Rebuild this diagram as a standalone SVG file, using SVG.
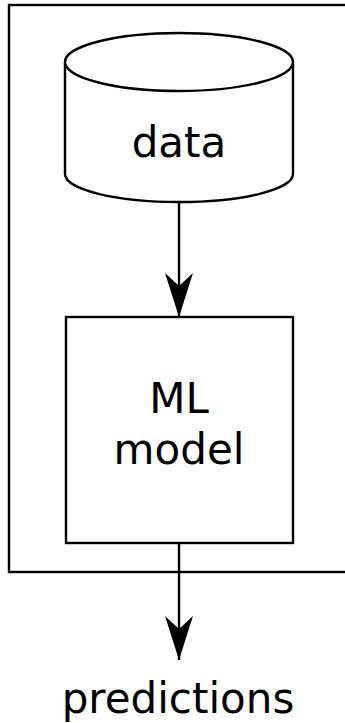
<svg xmlns="http://www.w3.org/2000/svg" width="345" height="723" viewBox="0 0 345 723">
  <style>
    .line { fill: none; stroke: #000; stroke-width: 2.4; }
    .shape { fill: #fff; stroke: #000; stroke-width: 2.4; }
    .label { font-family: "DejaVu Sans", "Liberation Sans", sans-serif; font-size: 42px; fill: #000; text-anchor: middle; }
  </style>
  <defs>
    <!-- notched dart head, drawn pointing along +x -->
    <marker id="dart" markerUnits="userSpaceOnUse" markerWidth="46" markerHeight="30" refX="44" refY="15" orient="auto" viewBox="0 0 46 30">
      <path d="M0,1 L13,15 L0,29 L44,15 Z" fill="#000"/>
    </marker>
  </defs>
  <rect width="345" height="723" fill="#fff"/>

  <!-- system boundary, open to the right -->
  <g id="boundary">
    <rect class="line" x="9" y="5" width="360" height="567"/>
  </g>

  <g id="connectors">
    <path class="line" d="M179,203 V317" marker-end="url(#dart)"/>
    <path class="line" d="M179,543 V660" marker-end="url(#dart)"/>
  </g>

  <g id="data">
    <path class="shape" d="M65,62 V174 A114,28 0 0 0 293,174 V62"/>
    <ellipse class="shape" cx="179" cy="62" rx="114" ry="29"/>
    <text class="label" x="179" y="157">data</text>
  </g>

  <g id="model">
    <rect class="shape" x="66" y="317" width="227" height="226"/>
    <text class="label" x="179" y="413">ML</text>
    <text class="label" x="179" y="464">model</text>
  </g>

  <g id="predictions">
    <text class="label" x="178" y="713">predictions</text>
  </g>
</svg>
